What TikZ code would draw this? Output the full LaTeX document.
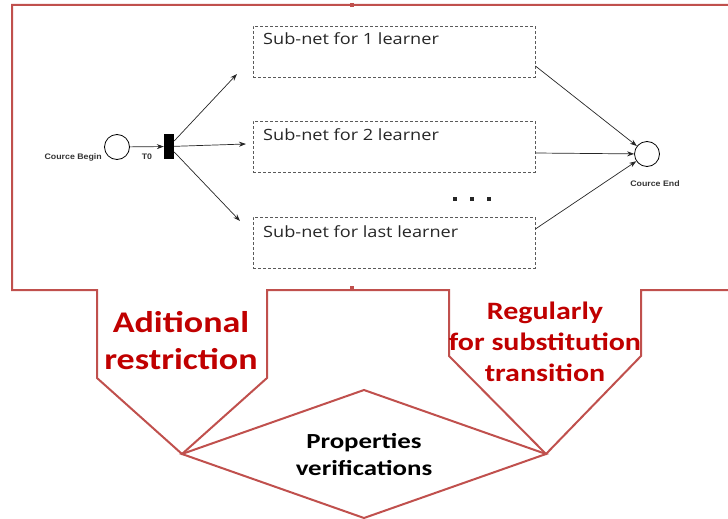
\documentclass[tikz,border=0pt]{standalone}
\usepackage{fontspec}
\setmainfont{Open Sans}[FakeStretch=1.17]
\newfontfamily\carlito{Carlito}[FakeStretch=1.2]
\newfontfamily\carlitop{Carlito}[FakeStretch=1.25]
\newfontfamily\arialf{Liberation Sans}[FakeStretch=1.1]
\usetikzlibrary{arrows.meta,calc}
\definecolor{redline}{RGB}{192,80,77}
\definecolor{redtext}{RGB}{192,0,0}
\definecolor{boxgray}{RGB}{90,90,90}
\begin{document}
\begin{tikzpicture}[x=1pt,y=-1pt,
  outline/.style={draw=redline,line width=2pt,line join=miter},
  subbox/.style={draw=boxgray,dashed,dash pattern=on 3pt off 2pt,line width=0.8pt,minimum width=282pt,minimum height=51pt,inner sep=0pt},
  subtext/.style={anchor=base west,inner sep=0pt,font=\fontsize{15.5}{18}\selectfont,text=black!85},
  place/.style={draw=black,circle,line width=0.8pt,minimum size=25pt,inner sep=0pt},
  arr/.style={-{Stealth[length=7pt,width=5pt]},line width=0.7pt,black!85},
  small/.style={font=\arialf\bfseries\fontsize{8}{9}\selectfont,inner sep=0pt,text=black!80},
  redlbl/.style={font=\carlito\bfseries,text=redtext,align=center,inner sep=0pt},
]
\useasboundingbox (0,0) rectangle (728,519);
% red outline
\draw[outline] (728,5) -- (12,5) -- (12,290) -- (97,290) -- (97,378) -- (182,454) -- (267,378) -- (267,290) -- (449,290) -- (449,356) -- (546,454) -- (641,356) -- (641,290) -- (728,290);
\fill[redline] (350,3) rectangle (354,7);
\fill[redline] (350,286) rectangle (354,290);
% diamond
\draw[draw=redline,line width=2pt] (182,454) -- (364,390) -- (546,454) -- (364,518) -- cycle;
\node[font=\carlitop\bfseries\fontsize{21.5}{27}\selectfont,align=center,inner sep=0pt] (pv) at (364,455) {Properties\\verifications};
% red labels
\node[redlbl,font=\carlito\bfseries\fontsize{30}{37}\selectfont] (ar) at (181,341) {Aditional\\restriction};
\node[redlbl,font=\carlito\bfseries\fontsize{25}{31}\selectfont] (rs) at (545,342) {Regularly\\for substitution\\transition};
% petri net
\node[place] (pb) at (117,147) {};
\node[small,anchor=base east] (lb) at (102,159) {Cource Begin};
\node[fill=black,minimum width=10pt,minimum height=25pt,inner sep=0pt] (t0) at (169,146.5) {};
\node[small,anchor=base] (lt) at (147,159) {T0};
\node[subbox] (b1) at (394,51.5) {};
\node[subbox] (b2) at (394,146.5) {};
\node[subbox] (b3) at (394,242.5) {};
\node[subtext] (s1) at (263,45) {Sub-net for 1 learner};
\node[subtext] (s2) at (263,140) {Sub-net for 2 learner};
\node[subtext] (s3) at (263,237) {Sub-net for last learner};
\node[place] (pe) at (647,154) {};
\node[small,anchor=base] (le) at (655,186) {Cource End};
\coordinate (e1) at (237,74);
\coordinate (e2) at (246,144);
\coordinate (e3) at (240,221);
\draw[arr] (pb) -- (t0);
\draw[arr] (t0) -- (e1);
\draw[arr] (t0) -- (e2);
\draw[arr] (t0) -- (e3);
\draw[arr] ([yshift=-14.5pt]b1.east) -- (pe);
\draw[arr] ([yshift=-6.5pt]b2.east) -- (pe);
\draw[arr] ([yshift=13.5pt]b3.east) -- (pe);
\foreach \x in {455,472,489} \fill[black!85] (\x-2,197) rectangle (\x+2,201);
\end{tikzpicture}
\end{document}
